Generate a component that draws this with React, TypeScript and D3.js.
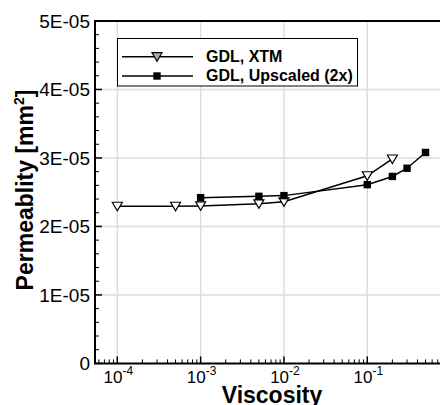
import React, { useEffect, useRef } from 'react';
import * as d3 from 'd3';

// viscosity values and permeability [mm^2]
const xtmViscosity = [1e-4, 5e-4, 1e-3, 5e-3, 1e-2, 1e-1, 2e-1];
const xtmPermeability = [2.295e-5, 2.295e-5, 2.3e-5, 2.33e-5, 2.36e-5, 2.74e-5, 2.985e-5];

const upViscosity = [1e-3, 5e-3, 1e-2, 1e-1, 2e-1, 3e-1, 5e-1];
const upPermeability = [2.42e-5, 2.44e-5, 2.45e-5, 2.61e-5, 2.73e-5, 2.85e-5, 3.08e-5];

const seriesNames = ['GDL, XTM', 'GDL, Upscaled (2x)'];

const yTicks = [0, 1e-5, 2e-5, 3e-5, 4e-5, 5e-5];
const yTickLabels = ['0', '1E-05', '2E-05', '3E-05', '4E-05', '5E-05'];
const xTicks = [1e-4, 1e-3, 1e-2, 1e-1];
const xTickExponents = ['-4', '-3', '-2', '-1'];

const FONT = '"Liberation Sans", Arial, sans-serif';

export default function App() {
  const ref = useRef<SVGSVGElement>(null);

  useEffect(() => {
    const W = 440, H = 405;
    const left = 95, top = 21, bottom = 363.4;
    const right = left + Math.log10(1 / 5.4e-5) * 83.33;

    const svg = d3.select(ref.current);
    svg.selectAll('*').remove();

    const x = d3.scaleLog().domain([5.4e-5, 1]).range([left, right]);
    const y = d3.scaleLinear().domain([0, 5e-5]).range([bottom, top]);

    svg.append('rect').attr('width', W).attr('height', H).attr('fill', 'white');

    // grid
    svg.append('g').selectAll('line').data(xTicks).enter().append('line')
      .attr('x1', d => x(d)).attr('x2', d => x(d))
      .attr('y1', top).attr('y2', bottom)
      .attr('stroke', '#dddddd').attr('stroke-width', 1.5);
    svg.append('g').selectAll('line').data(yTicks.slice(1, -1)).enter().append('line')
      .attr('x1', left).attr('x2', right)
      .attr('y1', d => y(d)).attr('y2', d => y(d))
      .attr('stroke', '#dddddd').attr('stroke-width', 1.5);

    // minor ticks
    const xMinor: number[] = [];
    for (let e = -5; e < 0; e++) {
      for (let m = 2; m <= 9; m++) {
        const v = m * Math.pow(10, e);
        if (v > 5.4e-5 && v < 1) xMinor.push(v);
      }
    }
    svg.append('g').selectAll('line').data(xMinor).enter().append('line')
      .attr('x1', d => x(d)).attr('x2', d => x(d))
      .attr('y1', bottom).attr('y2', bottom - 4)
      .attr('stroke', 'black').attr('stroke-width', 1);
    svg.append('g').selectAll('line').data(xTicks).enter().append('line')
      .attr('x1', d => x(d)).attr('x2', d => x(d))
      .attr('y1', bottom).attr('y2', bottom - 7)
      .attr('stroke', 'black').attr('stroke-width', 1.5);

    const yMinor = d3.range(0, 5e-5 + 1e-9, 2e-6).filter(v => Math.abs(v / 1e-5 - Math.round(v / 1e-5)) > 1e-6);
    svg.append('g').selectAll('line').data(yMinor).enter().append('line')
      .attr('x1', left).attr('x2', left + 4)
      .attr('y1', d => y(d)).attr('y2', d => y(d))
      .attr('stroke', 'black').attr('stroke-width', 1);
    svg.append('g').selectAll('line').data(yTicks).enter().append('line')
      .attr('x1', left).attr('x2', left + 7)
      .attr('y1', d => y(d)).attr('y2', d => y(d))
      .attr('stroke', 'black').attr('stroke-width', 1.5);

    // frame
    svg.append('path')
      .attr('d', `M${right},${top}H${left}V${bottom}H${right}`)
      .attr('fill', 'none').attr('stroke', 'black').attr('stroke-width', 2);

    // tick labels
    svg.append('g').selectAll('text').data(yTicks).enter().append('text')
      .attr('x', left - 5).attr('y', d => y(d)).attr('dy', '0.36em')
      .attr('text-anchor', 'end')
      .style('font-family', FONT).style('font-size', '19px')
      .text((_, i) => yTickLabels[i]);

    const xl = svg.append('g').selectAll('text').data(xTicks).enter().append('text')
      .attr('x', d => x(d) + 1).attr('y', 383)
      .attr('text-anchor', 'middle')
      .style('font-family', FONT).style('font-size', '17px');
    xl.append('tspan').text('10');
    xl.append('tspan').attr('dy', -8).style('font-size', '12px').text((_, i) => xTickExponents[i]);

    // axis titles
    svg.append('text')
      .attr('x', 272).attr('y', 403)
      .attr('text-anchor', 'middle')
      .style('font-family', FONT).style('font-size', '23px').style('font-weight', 'bold')
      .text('Viscosity');
    const yt = svg.append('text')
      .attr('transform', 'translate(33,190) rotate(-90)')
      .attr('text-anchor', 'middle')
      .style('font-family', FONT).style('font-size', '23px').style('font-weight', 'bold');
    yt.append('tspan').text('Permeablity [mm');
    yt.append('tspan').attr('dy', -9).style('font-size', '14px').text('2');
    yt.append('tspan').attr('dy', 9).text(']');

    // series
    const line = d3.line<[number, number]>().x(d => x(d[0])).y(d => y(d[1]));
    const xtm: [number, number][] = xtmViscosity.map((v, i) => [v, xtmPermeability[i]]);
    const up: [number, number][] = upViscosity.map((v, i) => [v, upPermeability[i]]);

    svg.append('path').attr('d', line(up)).attr('fill', 'none').attr('stroke', 'black').attr('stroke-width', 1.5);
    svg.append('path').attr('d', line(xtm)).attr('fill', 'none').attr('stroke', 'black').attr('stroke-width', 1.5);

    const tri = 'M-5,-4L5,-4L0,4.5Z';
    svg.append('g').selectAll('path').data(xtm).enter().append('path')
      .attr('d', tri)
      .attr('transform', d => `translate(${x(d[0])},${y(d[1])})`)
      .attr('fill', 'white').attr('stroke', 'black').attr('stroke-width', 1.2);
    svg.append('g').selectAll('rect').data(up).enter().append('rect')
      .attr('x', d => x(d[0]) - 3.7).attr('y', d => y(d[1]) - 3.7)
      .attr('width', 7.4).attr('height', 7.4)
      .attr('fill', 'black');

    // legend
    const lg = svg.append('g');
    lg.append('rect').attr('x', 117.5).attr('y', 38.5).attr('width', 240).attr('height', 47.5)
      .attr('fill', 'white').attr('stroke', 'black').attr('stroke-width', 1);
    const rows = [56.7, 76];
    rows.forEach((ry, i) => {
      lg.append('line').attr('x1', 122).attr('x2', 193).attr('y1', ry).attr('y2', ry)
        .attr('stroke', 'black').attr('stroke-width', 1.5);
      if (i === 0) {
        lg.append('path').attr('d', tri).attr('transform', `translate(157,${ry})`)
          .attr('fill', '#aaaaaa').attr('stroke', 'black').attr('stroke-width', 1.2);
      } else {
        lg.append('rect').attr('x', 157 - 3.7).attr('y', ry - 3.7).attr('width', 7.4).attr('height', 7.4)
          .attr('fill', 'black');
      }
      lg.append('text').attr('x', 206).attr('y', ry + 5.3)
        .style('font-family', FONT).style('font-size', '16px').style('font-weight', 'bold')
        .text(seriesNames[i]);
    });
  }, []);

  return (
    <svg ref={ref} width={440} height={405} style={{ position: 'absolute', left: 0, top: 0 }} />
  );
}
